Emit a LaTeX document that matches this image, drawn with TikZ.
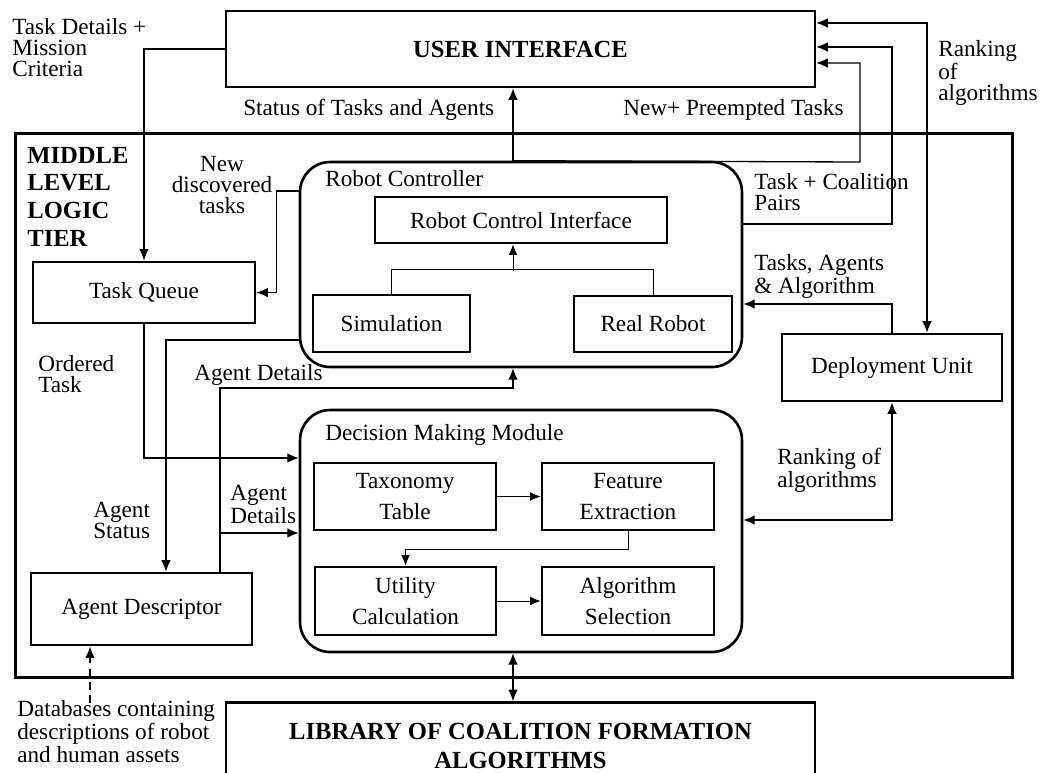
\documentclass[tikz,border=0pt]{standalone}
\usepackage{fontspec}
\setmainfont{Liberation Serif}
\usetikzlibrary{arrows.meta}

\tikzset{
	box/.style={draw, line width=1.6pt, inner sep=0pt, align=center, font=\fontsize{13.2}{18}\selectfont},
	module/.style={draw, line width=1.5pt, rounded corners=0.6cm, inner sep=0pt},
	lbl/.style={inner sep=0pt, align=left, font=\fontsize{13.2}{11.7}\selectfont},
	title/.style={font=\fontsize{14}{15.7}\selectfont\bfseries},
	conn/.style={->, >={Latex[length=6.5pt,width=5.5pt]}, line width=0.75pt},
	thinconn/.style={->, >={Latex[length=6pt,width=5pt]}, line width=0.45pt}
}

\begin{document}
\begin{tikzpicture}[x=0.02cm, y=-0.02cm]
			\useasboundingbox (0,0) rectangle (1064,772);
			\coordinate (spine) at (513,0);
			
			% blocks
			\node[draw, line width=1.7pt, minimum width=19.96cm, minimum height=10.9cm] (MLT) at (514,405.5) {};
			\node[box, title, minimum width=11.78cm, minimum height=1.52cm] (UI) at (520.5,49) {USER INTERFACE} ;
			\node[box, minimum width=4.44cm, minimum height=1.22cm] (TQ) at (144,292.5) {Task Queue} ;
			\node[module, minimum width=8.84cm, minimum height=4.1cm] (RC) at (521,264.5) {} ;
			\node[box, minimum width=5.84cm, minimum height=0.92cm] (RCI) at (521,220) {Robot Control Interface} ;
			\node[box, minimum width=3.14cm, minimum height=1.14cm] (Sim) at (391.5,323.5) {Simulation} ;
			\node[box, minimum width=3.16cm, minimum height=1.12cm] (Real) at (653,324) {Real Robot} ;
			\node[box, minimum width=4.4cm, minimum height=1.34cm] (DU) at (892,367.5) {Deployment Unit} ;
			\node[module, minimum width=8.84cm, minimum height=4.84cm] (DMM) at (521,531) {} ;
			\node[box, minimum width=3.64cm, minimum height=1.34cm] (Tax) at (405,496.5) {Taxonomy\\Table} ;
			\node[box, minimum width=3.44cm, minimum height=1.34cm] (Feat) at (628,496.5) {Feature\\Extraction} ;
			\node[box, minimum width=3.62cm, minimum height=1.36cm] (Util) at (405.5,601) {Utility\\Calculation} ;
			\node[box, minimum width=3.44cm, minimum height=1.36cm] (Algo) at (628,601) {Algorithm\\Selection} ;
			\node[box, minimum width=4.42cm, minimum height=1.44cm] (AD) at (141.5,609) {Agent Descriptor} ;
			\node[box, font=\fontsize{14}{17}\selectfont\bfseries, minimum width=11.78cm, minimum height=1.74cm] (LIB) at (520.5,746) {LIBRARY OF COALITION FORMATION\\ALGORITHMS} ;
			
			% labels (base = last line)
			\node[lbl, anchor=base west] (tdmc) at (12,76) {Task Details +\\Mission\\Criteria} ;
			\node[lbl, title, anchor=base west] (mlt) at (27,246) {MIDDLE\\LEVEL\\LOGIC\\TIER} ;
			\node[lbl, align=center, anchor=base] (newd) at (222,213) {New\\discovered\\tasks} ;
			\node[lbl, anchor=base west] (stat) at (243,115) {Status of Tasks and Agents} ;
			\node[lbl, anchor=base west] (npt) at (623,115) {New+ Preempted Tasks} ;
			\node[lbl, anchor=base west] (rank1) at (938,100) {Ranking\\of\\algorithms} ;
			\node[lbl, anchor=base west] (rct) at (325,186) {Robot Controller} ;
			\node[lbl, anchor=base west] (tcp) at (754,210) {Task + Coalition\\Pairs} ;
			\node[lbl, anchor=base west] (taa) at (754,293) {Tasks, Agents\\\& Algorithm} ;
			\node[lbl, anchor=base west] (ord) at (38,392) {Ordered\\Task} ;
			\node[lbl, anchor=base west] (ad1) at (194,380) {Agent Details} ;
			\node[lbl, anchor=base west] (dmt) at (325,440) {Decision Making Module} ;
			\node[lbl, anchor=base west] (ad2) at (230,523) {Agent\\Details} ;
			\node[lbl, anchor=base west] (ast) at (93,538) {Agent\\Status} ;
			\node[lbl, anchor=base west] (rank2) at (777,487) {Ranking of\\algorithms} ;
			\node[lbl, anchor=base west] (db) at (17,762) {Databases containing\\descriptions of robot\\and human assets} ;
			\coordinate (dbtop) at (90,703);
			
			% connectors
			\draw[conn] (UI.west) -| (TQ.north) ;
			\draw[conn] (RC.west |- 0,191) -- ++(-22,0) |- (TQ.east) ;
			\draw[conn] (spine |- RC.north) -- (spine |- UI.south) ;
			\draw[conn] (spine |- RC.north) -- (860,162) -- (860,63) -- (UI.east |- 0,63) ;
			\draw[conn] (RC.east |- 0,224) -- (892,224) -- (892,47) -- (UI.east |- 0,47) ;
			\draw[conn, <->] (UI.east |- 0,23) -| (927,0 |- DU.north) ;
			\draw[conn] (DU.north) |- (RC.east |- 0,304) ;
			\draw[conn, <->] (DU.south) |- (DMM.east |- 0,520) ;
			
			\draw[line width=0.45pt] (Sim.north) -- ++(0,-24) -| (Real.north) ;
			\draw[thinconn] (spine |- 0,271) -- (spine |- RCI.south) ;
			
			\draw[conn] (RC.west |- 0,340) -| (166,0 |- AD.north) ;
			\draw[conn] (220,0 |- AD.north) |- (spine |- 0,388) -- (spine |- RC.south) ;
			\draw[conn] (220,533) -- (DMM.west |- 0,533) ;
			\draw[conn] (TQ.south) |- (DMM.west |- 0,458) ;
			
			\draw[thinconn] (Tax.east) -- (Feat.west) ;
			\draw[thinconn] (Feat.south) -- ++(0,18) -| (Util.north) ;
			\draw[thinconn] (Util.east) -- (Algo.west) ;
			
			\draw[conn, <->] (spine |- DMM.south) -- (spine |- LIB.north) ;
			\draw[conn, line width=1.1pt, dash pattern=on 4.5pt off 3pt] (dbtop) -- (dbtop |- AD.south) ;
		\end{tikzpicture}
\end{document}
